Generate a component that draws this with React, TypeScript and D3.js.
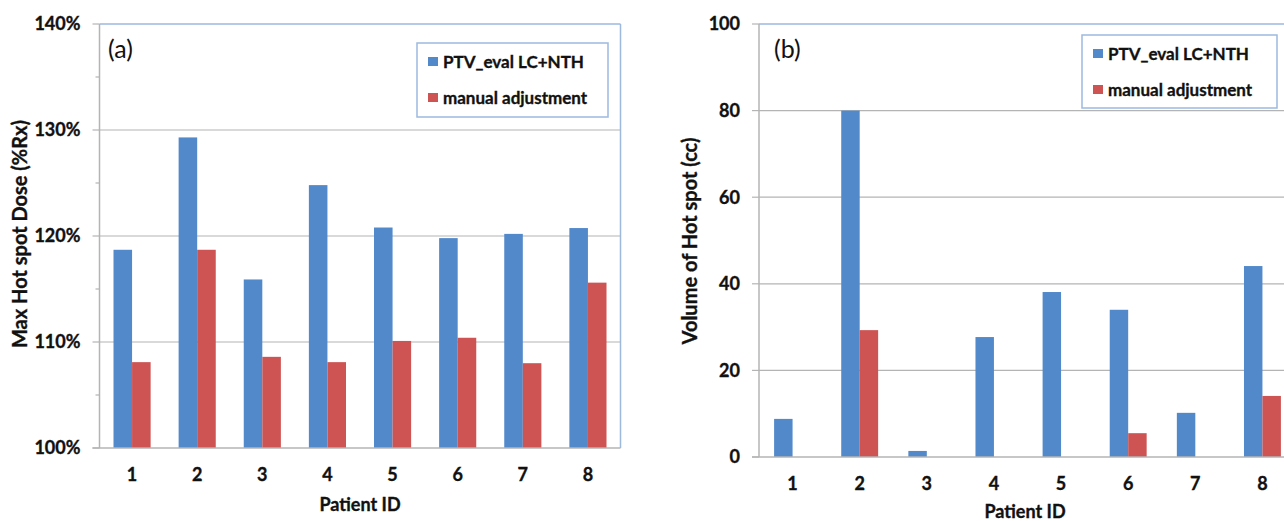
import React from "react";
import * as d3 from "d3";

const patients = ["1", "2", "3", "4", "5", "6", "7", "8"];
const seriesNames = ["PTV_eval LC+NTH", "manual adjustment"];
const doseAuto = [118.7, 129.3, 115.9, 124.8, 120.8, 119.8, 120.2, 120.75];
const doseManual = [108.1, 118.7, 108.6, 108.1, 110.1, 110.4, 108.0, 115.6];
const volAuto = [8.8, 80, 1.4, 27.7, 38.1, 34, 10.2, 44.1];
const volManual = [0, 29.3, 0, 0, 0, 5.5, 0, 14.1];
const doseTicks = [100, 110, 120, 130, 140];
const doseMinorTicks = [105, 115, 125, 135];
const volTicks = [0, 20, 40, 60, 80, 100];

const BLUE = "#5289CA";
const RED = "#CD5453";
const GRID = "#B4B4B4";
const BORDER = "#9DB9DE";
const FONT = "Lato, 'Open Sans', sans-serif";
const INK = "#111";
const bold = { fontFamily: FONT, fontWeight: 700, fill: INK, stroke: INK, strokeWidth: 0.35 } as const;

type PanelProps = {
  x0: number; x1: number; yTop: number; yBottom: number;
  domain: [number, number];
  ticks: number[]; minorTicks: number[];
  fmt: (v: number) => string;
  a: number[]; b: number[];
  label: string; labelX: number;
  yTitle: string; yTitleX: number; yTitleY: number;
  xTitleX: number; xTitleY: number;
  legend: { x: number; y: number; w: number; h: number };
  bandPad: number;
};

function Panel(p: PanelProps) {
  const x = d3.scaleBand<string>().domain(patients).range([p.x0, p.x1]).paddingInner(0).paddingOuter(0);
  const y = d3.scaleLinear().domain(p.domain).range([p.yBottom, p.yTop]);
  const bw = x.bandwidth();
  const barW = bw * p.bandPad / 2;
  const base = p.domain[0];
  return (
    <g>
      <line x1={p.x0} x2={p.x1} y1={p.yTop} y2={p.yTop} stroke={BORDER} strokeWidth={1.5} />
      <line x1={p.x1} x2={p.x1} y1={p.yTop} y2={p.yBottom} stroke={BORDER} strokeWidth={1.5} />
      {p.ticks.filter((t) => t !== p.domain[0] && t !== p.domain[1]).map((t) => (
        <line key={"g" + t} x1={p.x0} x2={p.x1} y1={y(t)} y2={y(t)} stroke={GRID} strokeWidth={1.2} />
      ))}
      {p.ticks.map((t) => (
        <line key={"t" + t} x1={p.x0 - 7} x2={p.x0} y1={y(t)} y2={y(t)} stroke={GRID} strokeWidth={1.2} />
      ))}
      {p.minorTicks.map((t) => (
        <line key={"m" + t} x1={p.x0 - 4} x2={p.x0} y1={y(t)} y2={y(t)} stroke={GRID} strokeWidth={1.2} />
      ))}
      {patients.map((c, i) => {
        const cx = (x(c) as number) + bw / 2;
        return (
          <g key={"b" + c}>
            {p.a[i] > base && (
              <rect x={cx - barW} y={y(p.a[i])} width={barW} height={y(base) - y(p.a[i])} fill={BLUE} />
            )}
            {p.b[i] > base && (
              <rect x={cx} y={y(p.b[i])} width={barW} height={y(base) - y(p.b[i])} fill={RED} />
            )}
          </g>
        );
      })}
      <line x1={p.x0} x2={p.x0} y1={p.yTop} y2={p.yBottom} stroke={GRID} strokeWidth={1.5} />
      <line x1={p.x0 - 7} x2={p.x1} y1={p.yBottom} y2={p.yBottom} stroke={GRID} strokeWidth={1.5} />
      {p.ticks.map((t) => (
        <text key={"l" + t} x={p.x0 - 19} y={y(t)} dy="0.35em" textAnchor="end" fontSize={18} {...bold}>{p.fmt(t)}</text>
      ))}
      {patients.map((c) => (
        <text key={"x" + c} x={(x(c) as number) + bw / 2} y={p.yBottom + 27} dy="0.35em" textAnchor="middle"
          fontSize={18} {...bold}>{c}</text>
      ))}
      <text x={p.xTitleX} y={p.xTitleY} dy="0.35em" textAnchor="middle" fontSize={18} {...bold}>Patient ID</text>
      <text transform={`translate(${p.yTitleX},${p.yTitleY}) rotate(-90)`} dy="0.35em" textAnchor="middle"
        fontSize={20} {...bold}>{p.yTitle}</text>
      <text x={p.labelX} y={p.yTop + 34} fontFamily={FONT} fontSize={25} fill={INK}>{p.label}</text>
      <rect x={p.legend.x} y={p.legend.y} width={p.legend.w} height={p.legend.h} fill="white" stroke={BORDER} strokeWidth={1.5} />
      {seriesNames.map((s, i) => (
        <g key={"lg" + i}>
          <rect x={p.legend.x + 11} y={p.legend.y + 14 + i * 36} width={10} height={9} fill={i === 0 ? BLUE : RED} />
          <text x={p.legend.x + 26} y={p.legend.y + 19 + i * 36} dy="0.35em" fontSize={17} {...bold}>{s}</text>
        </g>
      ))}
    </g>
  );
}

export default function App() {
  return (
    <svg width={1284} height={521} style={{ position: "absolute", left: 0, top: 0, background: "white" }}>
      <rect x={0} y={0} width={1284} height={521} fill="white" />
      <Panel x0={99.5} x1={620.5} yTop={24} yBottom={448} domain={[100, 140]}
        ticks={doseTicks} minorTicks={doseMinorTicks} fmt={(v) => `${v}%`}
        a={doseAuto} b={doseManual} label="(a)" labelX={108}
        yTitle="Max Hot spot Dose (%Rx)" yTitleX={20} yTitleY={234}
        xTitleX={360} xTitleY={505}
        legend={{ x: 417, y: 43, w: 191, h: 74 }} bandPad={0.57} />
      <Panel x0={759} x1={1296} yTop={24} yBottom={457} domain={[0, 100]}
        ticks={volTicks} minorTicks={[]} fmt={(v) => `${v}`}
        a={volAuto} b={volManual} label="(b)" labelX={774}
        yTitle="Volume of Hot spot (cc)" yTitleX={690} yTitleY={241}
        xTitleX={1025} xTitleY={512}
        legend={{ x: 1082, y: 35, w: 195, h: 73 }} bandPad={0.55} />
    </svg>
  );
}
